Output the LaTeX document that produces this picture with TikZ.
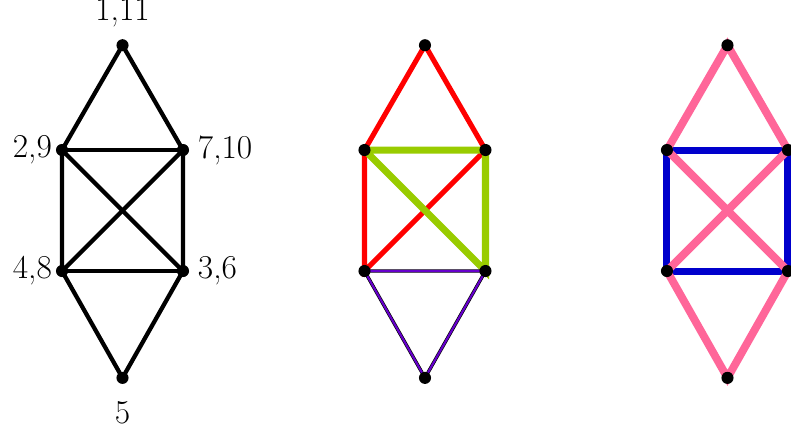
\documentclass[tikz,border=0pt]{standalone}
\usepackage{tikz}
\usetikzlibrary{backgrounds}
\definecolor{edgered}{RGB}{255,0,0}
\definecolor{edgegreen}{RGB}{153,204,0}
\definecolor{edgepurple}{RGB}{102,0,204}
\definecolor{edgeblue}{RGB}{0,0,204}
\definecolor{edgepink}{RGB}{255,102,153}

\tikzset{
  vert/.style={circle, fill=black, inner sep=0pt, minimum size=0.2cm},
  lab/.style={inner sep=0pt, font=\fontsize{15.7}{19}\selectfont},
  plain/.style={line width=2pt, black},
}

\begin{document}
\begin{tikzpicture}
  \useasboundingbox (-2.025,-3.595) rectangle (11.05,3.48);

  % three copies of the same graph
  \foreach \g/\dx in {1/0,2/5,3/10} {
    \node[vert] (\g t) at (\dx,2.732) {};
    \node[vert] (\g a) at (\dx-1,1) {};
    \node[vert] (\g b) at (\dx+1,1) {};
    \node[vert] (\g c) at (\dx-1,-1) {};
    \node[vert] (\g d) at (\dx+1,-1) {};
    \node[vert] (\g u) at (\dx,-2.766) {};
  }

  % vertex labels
  \node[lab, anchor=south] (l111) at ([yshift=5.2pt]1t.north) {1,11};
  \node[lab, anchor=east]  (l29)  at ([xshift=-1.5pt]1a.west) {2,9};
  \node[lab, anchor=west]  (l710) at ([xshift=3.8pt]1b.east) {7,10};
  \node[lab, anchor=east]  (l48)  at ([xshift=-1.5pt]1c.west) {4,8};
  \node[lab, anchor=west]  (l36)  at ([xshift=3.8pt]1d.east) {3,6};
  \node[lab, anchor=north] (l5)   at ([yshift=-8pt]1u.south) {5};

  \begin{scope}[on background layer]
    % left graph
    \draw[plain] (1t.center) -- (1a.center) -- (1c.center) -- (1u.center)
                 -- (1d.center) -- (1b.center) -- cycle;
    \draw[plain] (1a.center) -- (1b.center);
    \draw[plain] (1c.center) -- (1d.center);
    \draw[plain] (1a.center) -- (1d.center);
    \draw[plain] (1b.center) -- (1c.center);

    % middle graph
    \draw[edgered, line width=2.4pt] (2b.center) -- (2t.center) -- (2a.center)
                 -- (2c.center) -- (2b.center);
    \draw[edgegreen, line width=3.3pt] (2a.center) -- (2b.center) -- (2d.center)
                 -- (2a.center);
    \draw[black, line width=1.6pt] (2c.center) -- (2d.center) -- (2u.center) -- cycle;
    \draw[edgepurple, line width=1pt] (2c.center) -- (2d.center) -- (2u.center) -- cycle;

    % right graph
    \draw[edgeblue, line width=3.3pt] (3a.center) -- (3b.center) -- (3d.center)
                 -- (3c.center) -- cycle;
    \draw[edgepink, line width=3.7pt] (3t.center) -- (3a.center) -- (3d.center)
                 -- (3u.center) -- (3c.center) -- (3b.center) -- cycle;
  \end{scope}
\end{tikzpicture}
\end{document}
